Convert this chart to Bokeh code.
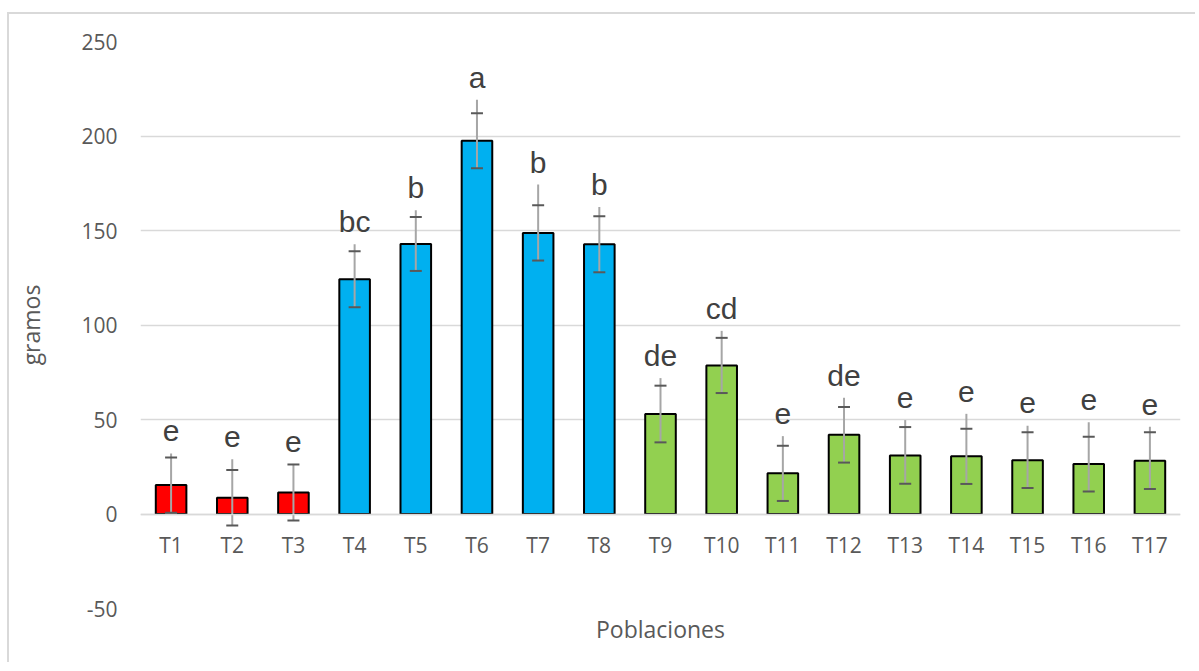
from bokeh.plotting import figure
from bokeh.models import ColumnDataSource, FactorRange, Range1d, FixedTicker, Title
from bokeh.transform import factor_cmap
from bokeh.core.properties import value
from bokeh.embed import file_html
from bokeh.resources import INLINE

# ---- data ----
poblaciones = ["T1", "T2", "T3", "T4", "T5", "T6", "T7", "T8", "T9", "T10",
               "T11", "T12", "T13", "T14", "T15", "T16", "T17"]
grupo = ["rojo", "rojo", "rojo", "azul", "azul", "azul", "azul", "azul",
         "verde", "verde", "verde", "verde", "verde", "verde", "verde", "verde", "verde"]
gramos = [15.3, 8.6, 11.4, 124.2, 142.9, 197.5, 148.7, 142.7, 52.9, 78.6,
          21.5, 41.9, 31.0, 30.5, 28.5, 26.4, 28.2]
error_std = [14.6, 14.7, 14.8, 14.8, 14.3, 14.6, 14.6, 14.8, 15.0, 14.6,
             14.6, 14.7, 15.0, 14.6, 14.7, 14.5, 15.0]
error_sup = [32.0, 29.0, 26.5, 142.7, 160.7, 219.2, 174.3, 162.4, 71.9, 96.9,
             41.2, 61.5, 49.7, 53.0, 46.7, 48.5, 46.1]
letras = ["e", "e", "e", "bc", "b", "a", "b", "b", "de", "cd",
          "e", "de", "e", "e", "e", "e", "e"]
y_ticks = [-50, 0, 50, 100, 150, 200, 250]

low = [g - s for g, s in zip(gramos, error_std)]
high = [g + s for g, s in zip(gramos, error_std)]
letra_y = [t + 11.8 for t in error_sup]

src = ColumnDataSource(dict(x=poblaciones, grupo=grupo, top=gramos, low=low,
                            high=high, tip=error_sup, letras=letras, ly=letra_y))

p = figure(x_range=FactorRange(*poblaciones), y_range=Range1d(-50, 250),
           width=1188, height=650, output_backend="svg", toolbar_location=None,
           min_border_left=131, min_border_right=17, min_border_top=27,
           min_border_bottom=56)
p.styles = {"border-top": "2px solid #d9d9d9", "border-left": "2px solid #d9d9d9",
            "margin-top": "12px", "margin-left": "7px"}
p.outline_line_color = None
p.background_fill_color = "white"
p.border_fill_color = "white"

# grid
p.xgrid.grid_line_color = None
p.ygrid.grid_line_color = "#d9d9d9"
p.ygrid.grid_line_width = 1.5
p.yaxis.ticker = FixedTicker(ticks=y_ticks)
p.yaxis.major_label_overrides = {-50: "-50"}

# y axis
p.yaxis.axis_line_color = None
p.yaxis.major_tick_line_color = None
p.yaxis.minor_tick_line_color = None
p.yaxis.major_tick_out = 0
p.yaxis.major_label_standoff = 23
p.yaxis.major_label_text_font = "Open Sans"
p.yaxis.major_label_text_font_size = "21px"
p.yaxis.major_label_text_color = "#595959"
p.yaxis.axis_label = "gramos"
p.yaxis.axis_label_standoff = 31
p.yaxis.axis_label_text_font = "Open Sans"
p.yaxis.axis_label_text_font_size = "23px"
p.yaxis.axis_label_text_font_style = "normal"
p.yaxis.axis_label_text_color = "#595959"

# x axis at zero
p.xaxis.fixed_location = 0
p.xaxis.axis_line_color = "#d9d9d9"
p.xaxis.axis_line_width = 1.5
p.xaxis.major_tick_line_color = None
p.xaxis.minor_tick_line_color = None
p.xaxis.major_tick_out = 0
p.xaxis.major_label_standoff = 17
p.xaxis.major_label_text_font = "Open Sans"
p.xaxis.major_label_text_font_size = "21px"
p.xaxis.major_label_text_color = "#595959"

# x title
p.add_layout(Title(text="Poblaciones", align="center", standoff=5,
                   text_font="Open Sans", text_font_size="23px",
                   text_font_style="normal", text_color="#595959"), "below")

# bars
p.vbar(x="x", top="top", width=0.5, source=src,
       fill_color=factor_cmap("grupo", palette=["#ff0000", "#00b0f0", "#92d050"],
                              factors=["rojo", "azul", "verde"]),
       line_color="black", line_width=2)

# error bars
p.segment(x0="x", y0="low", x1="x", y1="tip", source=src,
          line_color="#a6a6a6", line_width=2)
p.dash(x="x", y="low", size=12, source=src, line_color="#595959", line_width=2)
p.dash(x="x", y="high", size=12, source=src, line_color="#595959", line_width=2)

# significance letters
p.text(x="x", y="ly", text="letras", source=src, text_align="center",
       text_baseline="alphabetic",
       text_font=value("Liberation Sans"), text_font_size="30px",
       text_color="#404040")

open("out.html", "w").write(file_html(p, INLINE))
